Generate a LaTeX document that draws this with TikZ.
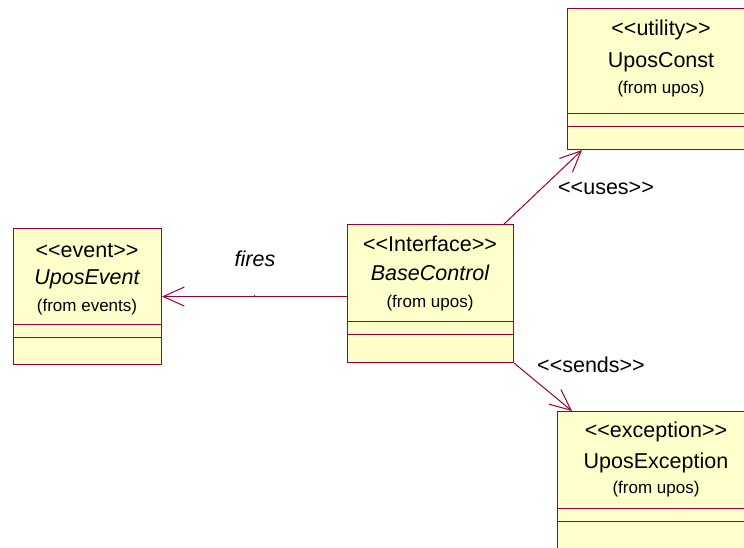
\documentclass[tikz,border=0pt]{standalone}
\usepackage{fontspec}
\setmainfont{Liberation Sans}
\usetikzlibrary{arrows.meta}
\definecolor{umlfill}{HTML}{FFFFCC}
\definecolor{umlline}{HTML}{990033}
\tikzset{
  cls/.style={draw=umlline, fill=umlfill, line width=1.1pt, rectangle, inner sep=0pt, anchor=north west},
  cline/.style={draw=umlline, line width=1pt},
  big/.style={anchor=base, inner sep=0pt, font=\fontsize{21.5}{24}\selectfont},
  small/.style={anchor=base, inner sep=0pt, font=\fontsize{17}{20}\selectfont},
  assoc/.style={draw=umlline, line width=1pt, -{Straight Barb[length=21pt,width=19pt]}},
}
\begin{document}
\begin{tikzpicture}[x=1pt,y=-1pt]
\useasboundingbox (0,0) rectangle (744,547);
\clip (0,0) rectangle (744,547);
% boxes
\node[cls, minimum width=148pt, minimum height=136pt] (ev) at (13,228) {};
\node[cls, minimum width=166pt, minimum height=138pt] (bc) at (347,224) {};
\node[cls, minimum width=188pt, minimum height=141pt] (uc) at (567,8) {};
\node[cls, minimum width=198pt, minimum height=160pt] (ex) at (557,411) {};
% compartments
\draw[cline] (ev.west |- 0,324) -- (ev.east |- 0,324);
\draw[cline] (ev.west |- 0,337) -- (ev.east |- 0,337);
\draw[cline] (bc.west |- 0,321) -- (bc.east |- 0,321);
\draw[cline] (bc.west |- 0,334) -- (bc.east |- 0,334);
\draw[cline] (uc.west |- 0,113) -- (uc.east |- 0,113);
\draw[cline] (uc.west |- 0,126) -- (uc.east |- 0,126);
\draw[cline] (ex.west |- 0,508) -- (ex.east |- 0,508);
\draw[cline] (ex.west |- 0,521) -- (ex.east |- 0,521);
% texts
\node[big] (ev1) at (87,257) {<{}<event>{}>};
\node[big] (ev2) at (87,284) {\itshape UposEvent};
\node[small] (ev3) at (87,311) {(from events)};
\node[big] (bc1) at (430,251) {<{}<Interface>{}>};
\node[big] (bc2) at (430,280) {\itshape BaseControl};
\node[small] (bc3) at (430,307) {(from upos)};
\node[big] (uc1) at (661,35) {<{}<utility>{}>};
\node[big] (uc2) at (661,67) {UposConst};
\node[small] (uc3) at (661,93) {(from upos)};
\node[big] (ex1) at (656,437) {<{}<exception>{}>};
\node[big] (ex2) at (656,468) {UposException};
\node[small] (ex3) at (656,493) {(from upos)};
% connectors
\draw[assoc] (bc.west |- ev.east) -- (ev.east);
\coordinate (tick) at (254,296);
\draw[cline, line width=0.8pt] ([yshift=-1pt]tick) -- ([yshift=1pt]tick);
\node[big, font=\fontsize{21.5}{24}\selectfont\itshape] (fires) at (255,266) {fires};
\draw[assoc] ([xshift=-10pt]bc.north east) -- ([xshift=15pt]uc.south west);
\node[big] (uses) at (606,194) {<{}<uses>{}>};
\draw[assoc] (bc.south east) -- ([xshift=15pt]ex.north west);
\node[big] (sends) at (591,372) {<{}<sends>{}>};
\end{tikzpicture}
\end{document}
